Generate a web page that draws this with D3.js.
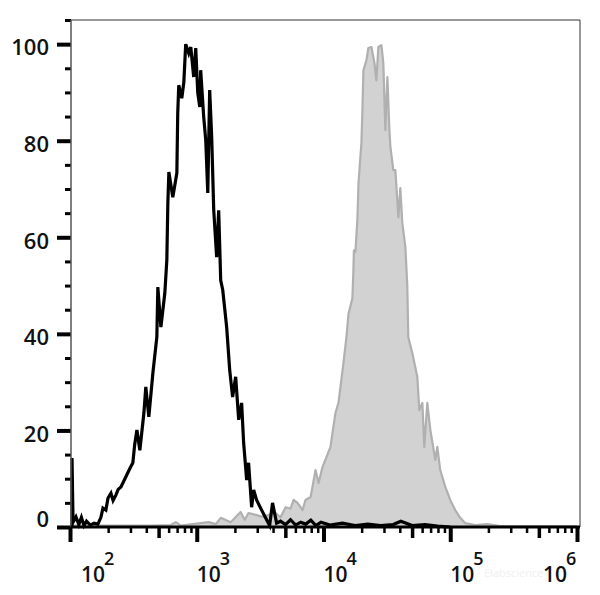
<!DOCTYPE html>
<html><head><meta charset="utf-8">
<script src="https://cdn.jsdelivr.net/npm/d3@7"></script>
<style>
html,body{margin:0;padding:0;background:#fff;}
svg{display:block;}
text{font-family:"Open Sans",sans-serif;}
</style></head>
<body>
<svg id="chart" width="600" height="595"></svg>
<script>
// Control (black outline) histogram: log10 intensity and % of max
const controlLog = [2.016,2.016,2.024,2.047,2.07,2.09,2.11,2.13,2.16,2.19,2.22,2.244,2.26,2.283,2.30,2.323,2.34,2.362,2.38,2.402,2.441,2.47,2.496,2.51,2.528,2.551,2.583,2.598,2.622,2.654,2.685,2.693,2.717,2.748,2.764,2.772,2.780,2.811,2.843,2.850,2.858,2.882,2.898,2.913,2.937,2.953,2.976,2.992,3.008,3.024,3.031,3.055,3.071,3.087,3.102,3.118,3.134,3.157,3.173,3.189,3.205,3.236,3.260,3.283,3.307,3.331,3.354,3.370,3.394,3.409,3.433,3.449,3.472,3.512,3.543,3.575,3.598,3.630,3.661,3.70,3.74,3.78,3.82,3.86,3.90,3.94,3.98,4.05,4.15,4.25,4.35,4.45,4.55,4.61,4.7,4.8,4.9,5.0];
const controlPct = [0,14.3,1.0,2.1,0.5,2.0,0.3,1.2,0.4,0.8,0.6,2.0,3.9,3.5,6.0,7.0,5.5,6.6,7.8,8.3,10.4,12.0,13.3,17.0,20.1,15.9,23.6,29.0,22.8,31.9,39.3,49.7,41.4,48.4,55.3,67.1,73.5,68.3,73.3,85.7,91.5,88.8,92.1,100,98.1,99.4,93.2,99.2,89.9,87.0,94.6,84.9,80.1,69.2,90.5,80.7,65.6,55.9,65.6,51.1,49.1,41.4,32.5,26.9,31.1,22.2,25.7,17.4,9.7,13.3,4.1,7.7,5.6,3.5,1.9,0.3,5.0,0.8,1.2,0.5,1.5,0.4,1.0,0.6,1.4,0.3,1.0,0.4,0.8,0.3,0.6,0.3,0.5,1.2,0.3,0.5,0.2,0];

// Stained (grey filled) histogram
const stainedLog = [2.016,2.244,2.638,2.795,2.835,2.874,3.031,3.094,3.15,3.189,3.268,3.346,3.378,3.409,3.465,3.52,3.567,3.622,3.661,3.701,3.740,3.764,3.795,3.835,3.858,3.898,3.913,3.937,3.961,3.992,4.024,4.055,4.094,4.118,4.134,4.157,4.181,4.197,4.228,4.236,4.24,4.252,4.268,4.276,4.299,4.307,4.315,4.339,4.354,4.378,4.402,4.417,4.433,4.457,4.472,4.488,4.504,4.520,4.528,4.551,4.567,4.591,4.606,4.622,4.646,4.661,4.669,4.701,4.740,4.756,4.780,4.795,4.819,4.843,4.882,4.898,4.921,4.961,5.0,5.039,5.079,5.118,5.197,5.29,5.394,6.0];
const stainedPct = [0.3,0.3,0.3,0.4,1.0,0.3,0.8,1.0,0.6,1.9,1.0,3.1,1.5,2.9,2.5,2.1,2.5,2.9,2.0,4.1,3.8,5.6,5.0,3.5,5.6,6.2,8.3,11.8,9.1,12.4,14.5,16.6,23.6,25.7,29.0,33.9,39.3,44.1,47.4,53.2,57.3,57.0,64.1,71.2,79.5,86.3,94.6,96.7,99.2,99.4,96.1,92.5,99.4,99.8,96.1,82.2,93.2,82.2,78.7,73.9,73.9,64.1,70.2,62.9,58.0,50.0,39.3,36.0,31.1,24.2,25.7,16.6,25.7,20.1,13.9,16.6,11.8,8.3,5.6,3.5,1.9,0.8,0.4,0.6,0.2,0.2];

const yMajor = [0,20,40,60,80,100];
const yMinor = [5,10,15,25,30,35,45,50,55,65,70,75,85,90,95,105];
const xDecades = [2,3,4,5,6];

const svg = d3.select("#chart");
const pL = 71, pR = 580, pT = 20, pB = 527;

const x = d3.scaleLog().domain([1e2, 1e6]).range([70, 577]);
const y = d3.scaleLinear().domain([0, 105]).range([pB, pT]);

// Frame (top and right)
svg.append("path")
  .attr("d", `M${pL},${pT}H${pR}V${pB}`)
  .attr("fill", "none").attr("stroke", "#333").attr("stroke-width", 1);

// Stained histogram
const stained = stainedLog.map((e, i) => [Math.pow(10, e), stainedPct[i]]);
const area = d3.area().x(d => x(d[0])).y0(y(0)).y1(d => y(d[1]));
const line = d3.line().x(d => x(d[0])).y(d => y(d[1]));
svg.append("path").datum(stained).attr("d", area)
  .attr("fill", "#d2d2d2");
svg.append("path").datum(stained).attr("d", line)
  .attr("fill", "none").attr("stroke", "#b0b0b0").attr("stroke-width", 2.2).attr("stroke-linejoin", "round");

// Control histogram
const control = controlLog.map((e, i) => [Math.pow(10, e), controlPct[i]]);
svg.append("path").datum(control).attr("d", line)
  .attr("fill", "none").attr("stroke", "#000").attr("stroke-width", 3.2).attr("stroke-linejoin", "miter");

// Y axis
const gy = svg.append("g").attr("transform", `translate(${pL},0)`);
gy.call(d3.axisLeft(y).tickValues(yMinor).tickSize(6).tickFormat(""));
gy.selectAll(".tick line").attr("stroke", "#000").attr("stroke-width", 3);
gy.select(".domain").remove();
const gy2 = svg.append("g").attr("transform", `translate(${pL},0)`);
gy2.call(d3.axisLeft(y).tickValues(yMajor).tickSize(14).tickFormat(d3.format("d")));
gy2.selectAll(".tick line").attr("stroke", "#000").attr("stroke-width", 4);
gy2.select(".domain").remove();
gy2.selectAll(".tick text")
  .attr("font-size", 22).attr("font-weight", 600).attr("fill", "#111")
  .attr("x", -22)
  .attr("dy", d => d === 0 ? "-0.02em" : "0.49em");
svg.append("line").attr("x1", pL).attr("x2", pL).attr("y1", pT).attr("y2", pB)
  .attr("stroke", "#555").attr("stroke-width", 1.5);

// X axis
const minorVals = [], midVals = [];
xDecades.slice(0, -1).forEach(n => {
  for (let k = 2; k <= 9; k++) (k === 5 ? midVals : minorVals).push(k * Math.pow(10, n));
});
const majorVals = xDecades.map(n => Math.pow(10, n));
function xAxisLayer(vals, size, w) {
  const g = svg.append("g").attr("transform", `translate(0,${pB})`);
  g.call(d3.axisBottom(x).tickValues(vals).tickSize(size).tickFormat(""));
  g.select(".domain").remove();
  g.selectAll(".tick line").attr("stroke", "#000").attr("stroke-width", w);
  return g;
}
xAxisLayer(minorVals, 6, 2.5);
xAxisLayer(midVals, 11, 3.5);
const gMaj = xAxisLayer(majorVals, 15, 4);
svg.append("line").attr("x1", pL).attr("x2", pR).attr("y1", pB).attr("y2", pB)
  .attr("stroke", "#000").attr("stroke-width", 3);

// faint watermark
svg.append("text").attr("x", 484).attr("y", 577).attr("font-size", 11)
  .attr("fill", "#efefef").text("Elabscience");

// x tick labels 10^n (kept within the plot width)
gMaj.selectAll(".tick text").remove();
const lab = svg.append("g");
xDecades.forEach(n => {
  const lx = Math.min(Math.max(x(Math.pow(10, n)), 81), pR - 37);
  const t = lab.append("text").attr("x", lx).attr("y", 582).attr("fill", "#111")
    .attr("font-size", 21).attr("font-weight", 600);
  t.append("tspan").text("10");
  t.append("tspan").attr("dx", -1).attr("dy", -17).attr("font-size", 18).text(n);
});
</script>
</body></html>
